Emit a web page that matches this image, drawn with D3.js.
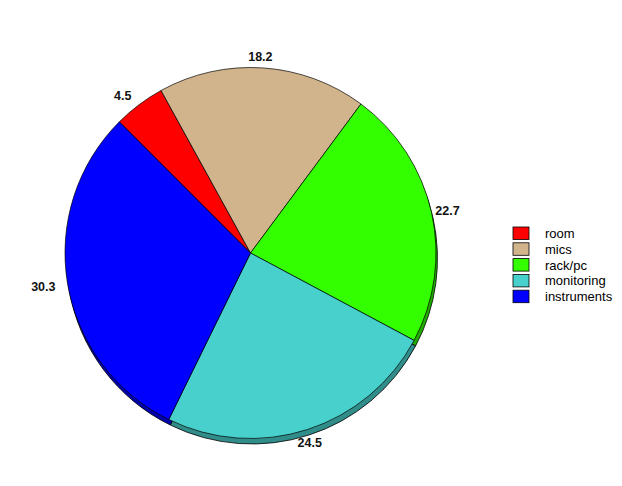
<!DOCTYPE html>
<html><head><meta charset="utf-8">
<script src="https://cdn.jsdelivr.net/npm/d3@7"></script>
<style>body{margin:0;background:#fff}svg{display:block}</style>
</head><body>
<script>
const categories = ["room", "mics", "rack/pc", "monitoring", "instruments"];
const values = [4.5, 18.2, 22.7, 24.5, 30.3];
const labels = ["4.5", "18.2", "22.7", "24.5", "30.3"];
const colors = ["#ff0000", "#d2b48c", "#33ff00", "#48d1cc", "#0000ff"];

const W = 622, H = 486;
const cx = 250.5, cy = 253, r = 185.5;
const svg = d3.select("body").append("svg").attr("width", W).attr("height", H);

const pie = d3.pie().sort(null).value(d => d)
  .startAngle(-Math.PI / 4).endAngle(-Math.PI / 4 + 2 * Math.PI);
const arcs = pie(values);
const arc = d3.arc().innerRadius(0).outerRadius(r);

// shadow
const sh = svg.append("g").attr("transform", `translate(${cx + 1.5},${cy + 5.5})`);
sh.selectAll("path").data(arcs).join("path")
  .attr("d", arc)
  .attr("fill", (d, i) => d3.color(colors[i]).darker(1.1))
  .attr("stroke", "#000").attr("stroke-width", 0.8);

const g = svg.append("g").attr("transform", `translate(${cx},${cy})`);
g.selectAll("path").data(arcs).join("path")
  .attr("d", arc)
  .attr("fill", (d, i) => colors[i])
  .attr("stroke", "#000").attr("stroke-width", 0.7);

// labels (placed on an ellipse around the pie)
const lrx = 206, lry = 198, ldx = -4, ldy = 1;
g.selectAll("text").data(arcs).join("text")
  .attr("x", d => { const a = (d.startAngle + d.endAngle) / 2; return ldx + lrx * Math.sin(a); })
  .attr("y", d => { const a = (d.startAngle + d.endAngle) / 2; return ldy - lry * Math.cos(a); })
  .attr("text-anchor", "middle")
  .attr("dy", "0.36em")
  .attr("font-family", "Liberation Sans, Arial, sans-serif")
  .attr("font-size", 12.5).attr("font-weight", "bold").attr("fill", "#111")
  .text((d, i) => labels[i]);

// legend
const lg = svg.append("g").attr("transform", "translate(513,227)");
const rows = lg.selectAll("g").data(categories).join("g")
  .attr("transform", (d, i) => `translate(0,${i * 15.8})`);
rows.append("rect").attr("width", 16).attr("height", 12.5)
  .attr("fill", (d, i) => colors[i]).attr("stroke", "#000").attr("stroke-width", 0.8);
rows.append("text").attr("x", 32).attr("y", 6.5).attr("dy", "0.35em")
  .attr("font-family", "Liberation Sans, Arial, sans-serif")
  .attr("font-size", 13).attr("fill", "#000").text(d => d);
</script>
</body></html>
